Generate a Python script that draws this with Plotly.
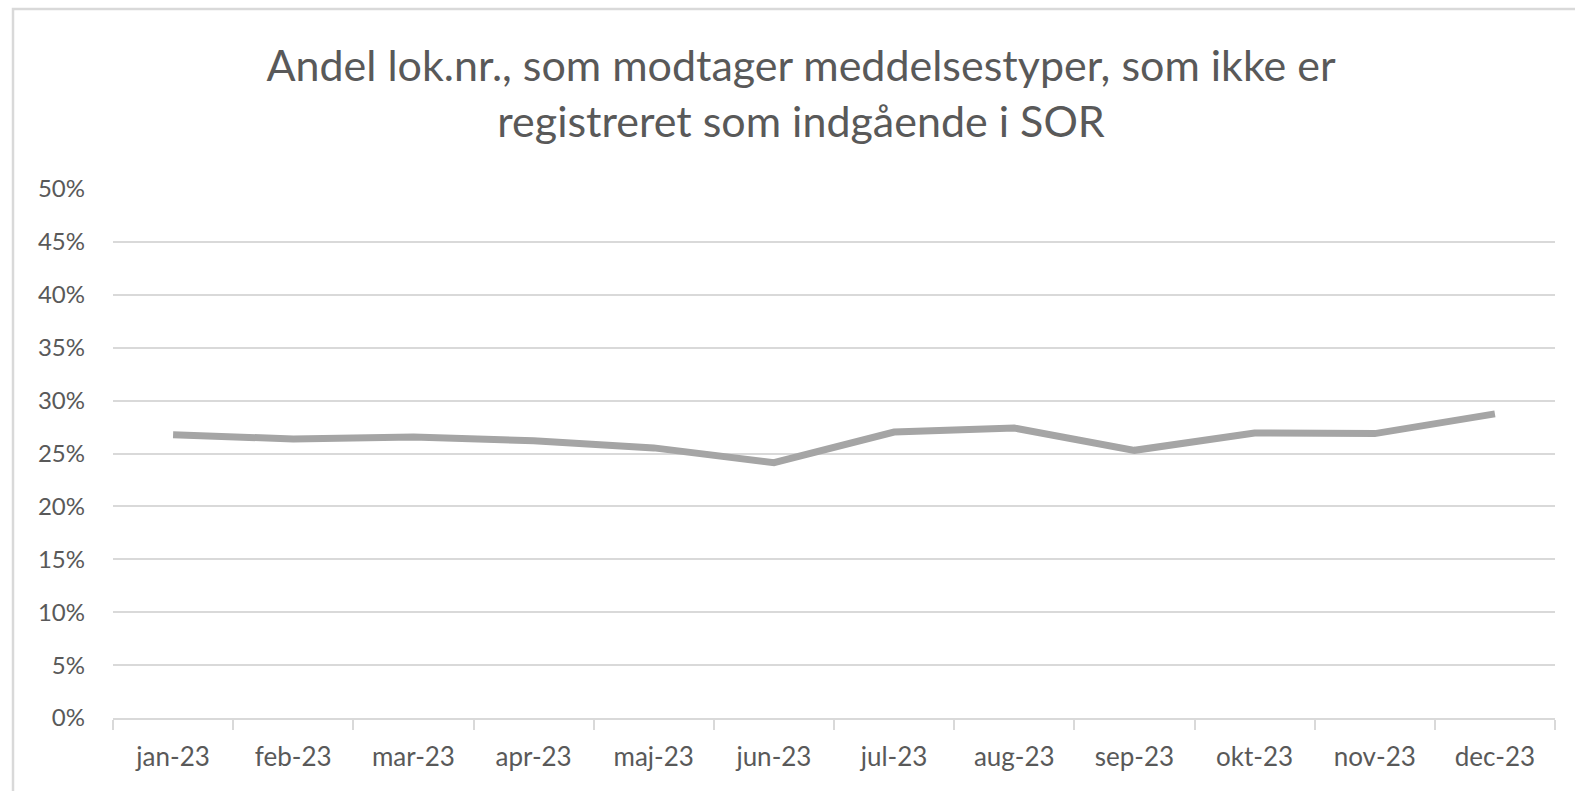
import plotly.graph_objects as go

months = ["jan-23", "feb-23", "mar-23", "apr-23", "maj-23", "jun-23",
          "jul-23", "aug-23", "sep-23", "okt-23", "nov-23", "dec-23"]
andel = [0.2678, 0.2637, 0.2656, 0.2620, 0.2553, 0.2413,
         0.2703, 0.2740, 0.2530, 0.2694, 0.2688, 0.2875]
y_ticks = [0, 0.05, 0.10, 0.15, 0.20, 0.25, 0.30, 0.35, 0.40, 0.45, 0.50]
title_text = "Andel lok.nr., som modtager meddelsestyper, som ikke er<br>registreret som indgående i SOR"

W, H = 1575, 791
L, R, T, B = 113, 20, 189, 73
pw, ph = W - L - R, H - T - B

FONT = "Lato"
TXT = "#595959"
GRID = "#D9D9D9"

fig = go.Figure()
fig.add_trace(go.Scatter(
    x=months, y=andel, mode="lines",
    line=dict(color="#A5A5A5", width=7),
    hoverinfo="x+y", showlegend=False,
))

def px_to_paper_x(px):
    return (px - L) / pw

def px_to_paper_y(py):
    return (H - B - py) / ph

fig.update_layout(
    width=W, height=H,
    margin=dict(l=L, r=R, t=T, b=B),
    paper_bgcolor="white", plot_bgcolor="white",
    font=dict(family=FONT, color=TXT),
    title=dict(text=title_text, x=0.5086, xanchor="center", y=0.898, yanchor="middle",
               font=dict(family=FONT, size=43, color=TXT)),
    xaxis=dict(
        type="category", range=[-0.5, 11.5],
        showline=True, linecolor=GRID, linewidth=1.5,
        ticks="outside", tickson="boundaries", ticklen=10, tickcolor=GRID, tickwidth=1.5,
        ticklabelstandoff=15,
        showgrid=False, tickfont=dict(family=FONT, size=26, color=TXT),
        fixedrange=True,
    ),
    yaxis=dict(
        range=[0, 0.5], tickvals=y_ticks, tickformat=".0%",
        showgrid=True, gridcolor=GRID, gridwidth=1.5,
        zeroline=False, showline=False, ticks="",
        ticklabelstandoff=27,
        tickfont=dict(family=FONT, size=24, color=TXT),
        fixedrange=True,
    ),
    shapes=[dict(
        type="rect", xref="paper", yref="paper",
        x0=px_to_paper_x(13), x1=px_to_paper_x(1590),
        y0=px_to_paper_y(810), y1=px_to_paper_y(9),
        line=dict(color=GRID, width=2.5), fillcolor="rgba(0,0,0,0)", layer="below",
    )],
)

fig.write_html("out.html", config={"displayModeBar": False},
               post_script="document.body.style.margin='0px';document.body.style.overflow='hidden';")
